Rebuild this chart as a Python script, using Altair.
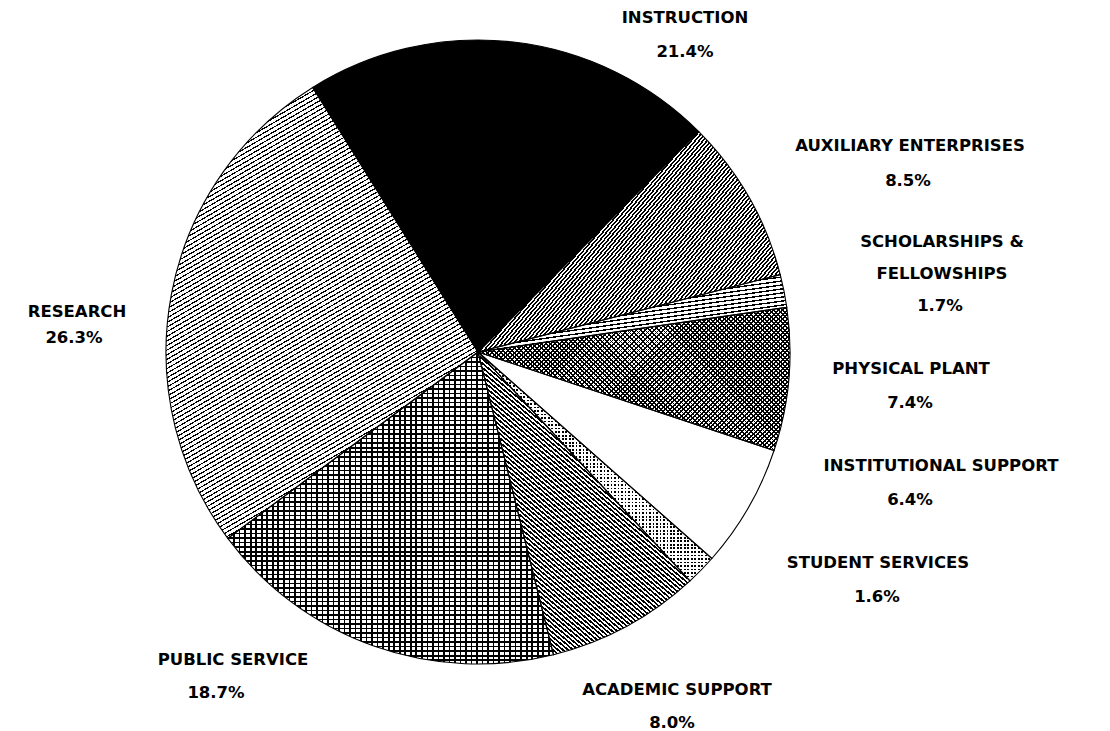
import math
import altair as alt
import pandas as pd

# ---- data ----
categories = ["INSTRUCTION", "AUXILIARY ENTERPRISES", "SCHOLARSHIPS &\nFELLOWSHIPS",
              "PHYSICAL PLANT", "INSTITUTIONAL SUPPORT", "STUDENT SERVICES",
              "ACADEMIC SUPPORT", "PUBLIC SERVICE", "RESEARCH"]
shares = [21.4, 8.5, 1.7, 7.4, 6.4, 1.6, 8.0, 18.7, 26.3]

# ---- label placement (view pixels) ----
name_x = [677, 902, 934, 903, 933, 870, 669, 225, 69]
name_y = [10, 138, 234, 361, 458, 555, 682, 652, 304]
pct_x = [677, 900, 932, 902, 902, 869, 664, 208, 66]
pct_y = [44, 173, 298, 395, 492, 589, 715, 685, 330]
LINE_GAP = 32

# ---- geometry / style ----
W_VIEW, H_VIEW = 1094, 723
CX, CY, R = 470, 344, 312
START_DEG = -32.0

df = pd.DataFrame({"category": categories, "share": shares, "order": list(range(len(shares)))})

# sector bounding boxes (needed to orient the hatching gradients)
total = sum(shares)
bboxes = []
acc = 0.0
for s in shares:
    t1 = START_DEG + 360 * acc / total
    t2 = START_DEG + 360 * (acc + s) / total
    acc += s
    pts = [(CX, CY)]
    for t in (t1, t2):
        pts.append((CX + R * math.sin(math.radians(t)), CY - R * math.cos(math.radians(t))))
    for m in range(math.ceil(t1 / 90), math.floor(t2 / 90) + 1):
        t = m * 90
        pts.append((CX + R * math.sin(math.radians(t)), CY - R * math.cos(math.radians(t))))
    xs = [p[0] for p in pts]
    ys = [p[1] for p in pts]
    bboxes.append((min(xs), min(ys), max(xs), max(ys)))


def stripes(i, phi, period, duty, ink="#000000", paper="#ffffff"):
    x0, y0, x1, y1 = bboxes[i]
    W, H = max(x1 - x0, 1), max(y1 - y0, 1)
    p = math.radians(phi)
    dx, dy = W * math.sin(p), H * math.cos(p)
    n = math.hypot(dx, dy)
    dx, dy = dx / n, dy / n
    h = 0.5 * (abs(dx) + abs(dy))
    span = 2 * h / math.hypot(dx / W, dy / H)
    N = max(1, round(span / period))
    stops = []
    for k in range(N):
        a = round(k / N, 5)
        b = round((k + duty) / N, 5)
        c = round((k + 1) / N, 5)
        stops += [{"offset": a, "color": ink}, {"offset": b, "color": ink},
                  {"offset": b, "color": paper}, {"offset": c, "color": paper}]
    return {"gradient": "linear",
            "x1": round(0.5 - h * dx, 5), "y1": round(0.5 - h * dy, 5),
            "x2": round(0.5 + h * dx, 5), "y2": round(0.5 + h * dy, 5),
            "stops": stops}


CLEAR = "rgba(0,0,0,0)"
fills = {
    0: ["#000000"],
    1: [stripes(1, 50, 3.0, 0.5)],
    2: [stripes(2, 8, 4.0, 0.35)],
    3: [stripes(3, 45, 3.2, 0.42), stripes(3, -45, 3.2, 0.42, paper=CLEAR)],
    4: ["#ffffff"],
    5: [stripes(5, 90, 3.5, 0.5), stripes(5, 0, 3.5, 0.5, ink="#ffffff", paper=CLEAR)],
    6: [stripes(6, -40, 3.3, 0.5)],
    7: [stripes(7, 0, 4.5, 0.35), stripes(7, 90, 5.5, 0.3, paper=CLEAR)],
    8: [stripes(8, 30, 4.0, 0.3)],
}

theta_scale = alt.Scale(domain=[0, total],
                        range=[math.radians(START_DEG), math.radians(START_DEG) + 2 * math.pi])

base = (
    alt.Chart(df)
    .transform_window(cum="sum(share)", sort=[alt.SortField("order")], frame=[None, 0])
    .transform_calculate(start="datum.cum - datum.share")
)
enc = dict(
    theta=alt.Theta("start:Q", scale=theta_scale, stack=None),
    theta2=alt.Theta2("cum:Q"),
    x=alt.value(CX),
    y=alt.value(CY),
)

layers = []
for i in range(len(shares)):
    for f in fills[i]:
        layers.append(
            base.transform_filter(alt.datum.order == i)
            .mark_arc(radius=R, fill=f)
            .encode(**enc)
        )

outline = base.mark_arc(radius=R, fill="transparent", stroke="#000000", strokeWidth=1.1).encode(**enc)
layers.append(outline)

# text rows
rows = []
for i, name in enumerate(categories):
    for j, line in enumerate(name.split("\n")):
        rows.append({"txt": line, "tx": name_x[i], "ty": name_y[i] + j * LINE_GAP})
    rows.append({"txt": f"{shares[i]:.1f}%", "tx": pct_x[i], "ty": pct_y[i]})
tdf = pd.DataFrame(rows)

text = alt.Chart(tdf).mark_text(
    font="DejaVu Sans", fontSize=16.5, fontWeight="bold",
    align="center", baseline="middle", color="#000000"
).encode(
    x=alt.X("tx:Q", scale=None, axis=None),
    y=alt.Y("ty:Q", scale=None, axis=None),
    text="txt:N",
)
layers.append(text)

chart = (
    alt.layer(*layers)
    .properties(width=W_VIEW, height=H_VIEW, padding=0,
                autosize=alt.AutoSizeParams(type="none"))
    .configure_view(stroke=None)
)

chart.save("out.html", embed_options={"renderer": "svg", "actions": False})
